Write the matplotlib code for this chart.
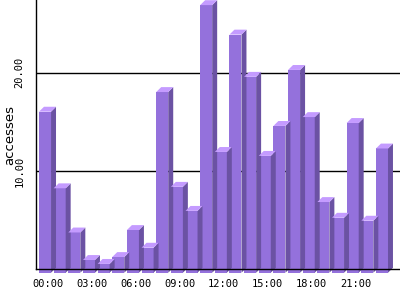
import matplotlib
matplotlib.use("Agg")
import matplotlib.pyplot as plt
import numpy as np

hours = ["%02d:00" % h for h in range(24)]
accesses = [16.4, 8.6, 4.1, 1.3, 0.9, 1.6, 4.35, 2.55, 18.4, 8.75, 6.3, 27.25,
            12.3, 24.25, 19.95, 11.9, 14.95, 20.65, 15.85, 7.2, 5.6, 15.25, 5.3, 12.65]
yticks = [10, 20]

front_col = "#9471dc"
side_col = "#6b52a3"
top_col = "#c49bff"

W, H = 400, 300
fig = plt.figure(figsize=(4, 3), dpi=100)
ax = fig.add_axes([35.5 / W, (H - 269.3) / H, (W - 35.5) / W, 269.3 / H])

width = 0.82   # front face width (x units)
dx = 0.34      # depth in x
dy = 0.5       # depth in y
off = 0.35     # front face sits below the back plane

x = np.arange(len(accesses))
ax.bar(x, np.array(accesses), width=width, bottom=-off, align="edge",
       color=front_col, edgecolor="none", zorder=2, clip_on=False)
for xi, v in zip(x, accesses):
    x1 = xi + width
    # side face
    ax.fill([x1, x1 + dx, x1 + dx, x1], [-off, -off + dy, v - off + dy, v - off],
            color=side_col, lw=0, zorder=2, clip_on=False)
    # top face
    ax.fill([xi, xi + dx, x1 + dx, x1], [v - off, v - off + dy, v - off + dy, v - off],
            color=top_col, lw=0, zorder=2, clip_on=False)

for t in yticks:
    ax.axhline(t, color="black", lw=1.0, zorder=1)

ax.set_xlim(-0.24, 24.64)
ax.set_ylim(0, 27.42)

ax.set_yticks(yticks)
ax.set_yticklabels(["%.2f" % t for t in yticks], rotation=90, va="center",
                   family="DejaVu Sans Mono", fontsize=7.5)
ax.set_xticks(x[::3] + 0.6)
ax.set_xticklabels(hours[::3], family="DejaVu Sans Mono", fontsize=7.5)
ax.tick_params(axis="both", length=0)
ax.tick_params(axis="y", pad=8)
ax.tick_params(axis="x", pad=7)
ax.set_ylabel("accesses", fontsize=9.5)
ax.yaxis.set_label_coords(-0.052, 0.5)

for s in ["top", "right"]:
    ax.spines[s].set_visible(False)
for s in ["left", "bottom"]:
    ax.spines[s].set_linewidth(1.0)
    ax.spines[s].set_zorder(3)
ax.patch.set_visible(False)

fig.savefig("out.png", dpi=100)
